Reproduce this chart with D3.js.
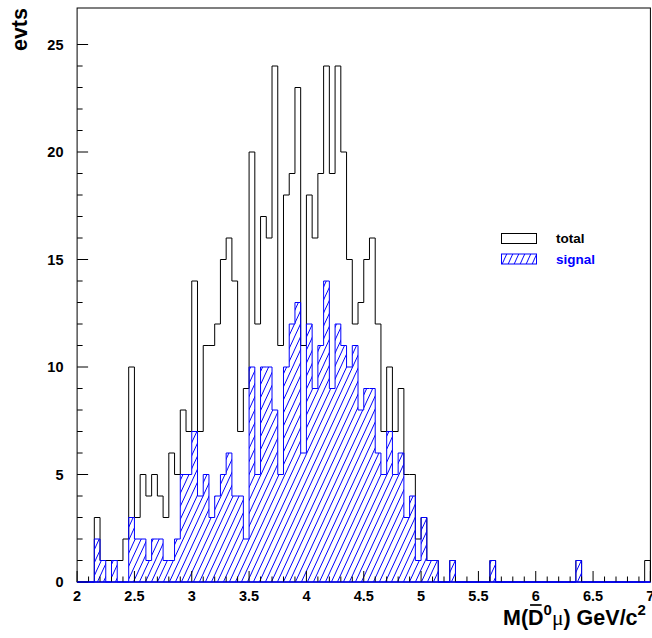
<!DOCTYPE html>
<html>
<head>
<meta charset="utf-8">
<script src="https://cdn.jsdelivr.net/npm/d3@7"></script>
<style>
  body { margin: 0; background: #fff; }
  text { font-family: "Liberation Sans", Arial, sans-serif; font-weight: bold; }
</style>
</head>
<body>
<div id="chart"></div>
<script>
const widthPage = 652;
const heightPage = 638;

// histogram binning: 100 bins from 2 to 7
const xMin = 2, xMax = 7, binWidth = 0.05;

const totalCounts = [
  0, 0, 0, 3, 1, 1, 1, 1, 2, 10,
  3, 5, 4, 5, 4, 3, 6, 5, 8, 7,
  14, 7, 11, 11, 12, 15, 16, 14, 7, 9,
  20, 12, 17, 16, 24, 11, 18, 19, 23, 11,
  18, 16, 19, 24, 19, 24, 20, 15, 12, 13,
  15, 16, 12, 7, 10, 7, 9, 5, 5, 2,
  3, 1, 1, 0, 0, 1, 0, 0, 0, 0,
  0, 0, 1, 0, 0, 0, 0, 0, 0, 0,
  0, 0, 0, 0, 0, 0, 0, 1, 0, 0,
  0, 0, 0, 0, 0, 0, 0, 0, 0, 1
];

const signalCounts = [
  0, 0, 0, 2, 1, 0, 1, 0, 0, 3,
  2, 2, 1, 2, 2, 1, 1, 2, 5, 5,
  7, 4, 5, 3, 4, 5, 6, 4, 4, 2,
  10, 5, 10, 10, 8, 5, 10, 12, 13, 6,
  12, 9, 11, 14, 9, 12, 11, 10, 11, 8,
  9, 9, 6, 5, 7, 5, 6, 3, 4, 1,
  3, 1, 1, 0, 0, 1, 0, 0, 0, 0,
  0, 0, 1, 0, 0, 0, 0, 0, 0, 0,
  0, 0, 0, 0, 0, 0, 0, 1, 0, 0,
  0, 0, 0, 0, 0, 0, 0, 0, 0, 0
];

const xTicks = [2, 2.5, 3, 3.5, 4, 4.5, 5, 5.5, 6, 6.5, 7];
const yTicks = [0, 5, 10, 15, 20, 25];
const legendLabels = ['total', 'signal'];

const frame = { left: 77.1, right: 650.4, top: 8, bottom: 582 };

const x = d3.scaleLinear().domain([xMin, xMax]).range([frame.left, frame.right]);
const y = d3.scaleLinear().domain([0, 25]).range([frame.bottom, 44.5]);

const svg = d3.select('#chart')
  .append('svg')
  .attr('width', widthPage)
  .attr('height', heightPage);

// hatch pattern for the signal histogram
const defs = svg.append('defs');
defs.append('pattern')
  .attr('id', 'hatch')
  .attr('patternUnits', 'userSpaceOnUse')
  .attr('width', 6)
  .attr('height', 13)
  .append('path')
  .attr('d', 'M-0.5,14 L6.5,-1 M5.5,14 L12.5,-1 M-6.5,14 L0.5,-1')
  .attr('stroke', '#0000ff')
  .attr('stroke-width', 1)
  .attr('fill', 'none');

// frame
svg.append('rect')
  .attr('x', frame.left)
  .attr('y', frame.top)
  .attr('width', frame.right - frame.left)
  .attr('height', frame.bottom - frame.top)
  .attr('fill', 'white')
  .attr('stroke', 'black')
  .attr('stroke-width', 1);

// step path for a histogram
function stepPath(counts) {
  const pts = [[xMin, 0]];
  counts.forEach((c, i) => {
    const lo = xMin + i * binWidth;
    pts.push([lo, c], [lo + binWidth, c]);
  });
  pts.push([xMax, 0]);
  return d3.line().x(d => x(d[0])).y(d => y(d[1]))(pts);
}

svg.append('path')
  .attr('d', stepPath(totalCounts))
  .attr('fill', 'none')
  .attr('stroke', 'black')
  .attr('stroke-width', 1);

svg.append('path')
  .attr('d', stepPath(signalCounts) + 'Z')
  .attr('fill', 'url(#hatch)')
  .attr('stroke', '#0000ff')
  .attr('stroke-width', 1);

// x axis ticks (inside, pointing up)
const xMinor = d3.range(0, 51).map(i => xMin + i * 0.1);
svg.append('g')
  .selectAll('line')
  .data(xMinor)
  .enter()
  .append('line')
  .attr('x1', d => x(d))
  .attr('x2', d => x(d))
  .attr('y1', frame.bottom)
  .attr('y2', (d, i) => i % 5 === 0 ? frame.bottom - 11 : frame.bottom - 5.5)
  .attr('stroke', 'black');

svg.append('g')
  .selectAll('text')
  .data(xTicks)
  .enter()
  .append('text')
  .attr('x', d => x(d))
  .attr('y', 601)
  .attr('text-anchor', 'middle')
  .attr('font-size', 14.5)
  .text(d => d);

// y axis ticks (inside, pointing right)
const yMinor = d3.range(0, 26);
svg.append('g')
  .selectAll('line')
  .data(yMinor)
  .enter()
  .append('line')
  .attr('x1', frame.left)
  .attr('x2', d => d % 5 === 0 ? frame.left + 11 : frame.left + 5.5)
  .attr('y1', d => y(d))
  .attr('y2', d => y(d))
  .attr('stroke', 'black');

svg.append('g')
  .selectAll('text')
  .data(yTicks)
  .enter()
  .append('text')
  .attr('x', 63.5)
  .attr('y', d => y(d) + 5.2)
  .attr('text-anchor', 'end')
  .attr('font-size', 14.5)
  .text(d => d);

// baseline drawn in blue, as the signal histogram covers it
svg.append('line')
  .attr('x1', frame.left).attr('x2', frame.right)
  .attr('y1', frame.bottom).attr('y2', frame.bottom)
  .attr('stroke', '#0000ff');

// y title
svg.append('text')
  .attr('transform', 'translate(27,8) rotate(-90)')
  .attr('text-anchor', 'end')
  .attr('font-size', 21.5)
  .text('evts');

// x title: M(D-bar^0 mu) GeV/c^2
const xTitle = svg.append('text')
  .attr('x', 503)
  .attr('y', 625)
  .attr('font-size', 21.5);
xTitle.append('tspan').text('M(D');
xTitle.append('tspan').attr('dy', -10).attr('font-size', 15).text('0');
xTitle.append('tspan').attr('dy', 10)
  .attr('font-family', '"Liberation Serif", serif')
  .attr('font-weight', 'normal')
  .text('\u03BC');
xTitle.append('tspan').text(') GeV/c');
xTitle.append('tspan').attr('dy', -10).attr('font-size', 15).text('2');

const dStart = xTitle.node().getStartPositionOfChar(2);
const dEnd = xTitle.node().getEndPositionOfChar(2);
svg.append('line')
  .attr('x1', dStart.x + 2).attr('x2', dEnd.x - 2)
  .attr('y1', 605).attr('y2', 605)
  .attr('stroke', 'black')
  .attr('stroke-width', 1.7);

// legend
const legend = svg.append('g');
legend.selectAll('rect')
  .data(legendLabels)
  .enter()
  .append('rect')
  .attr('x', 501.5)
  .attr('y', (d, i) => 233.5 + i * 20.5)
  .attr('width', 35)
  .attr('height', 10)
  .attr('fill', (d, i) => i === 0 ? 'white' : 'url(#hatch)')
  .attr('stroke', (d, i) => i === 0 ? 'black' : '#0000ff');

legend.selectAll('text')
  .data(legendLabels)
  .enter()
  .append('text')
  .attr('x', 556)
  .attr('y', (d, i) => 243 + i * 20.5)
  .attr('font-size', 13.5)
  .attr('fill', (d, i) => i === 0 ? 'black' : '#0000ff')
  .text(d => d);
</script>
</body>
</html>
